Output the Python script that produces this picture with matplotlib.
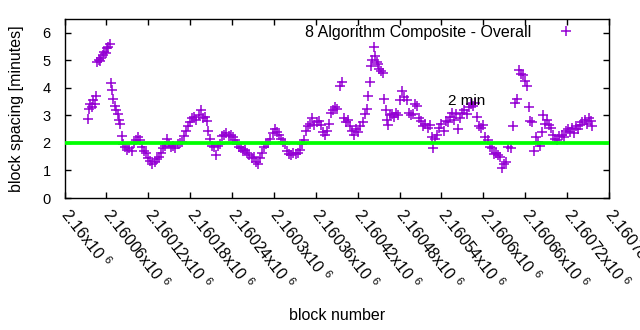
import numpy as np
import matplotlib
matplotlib.use("Agg")
import matplotlib.pyplot as plt
from matplotlib.ticker import MultipleLocator, FuncFormatter

# numer bloku = BASE_BLOCK + offset
BASE_BLOCK = 2160000

block_offset = [
    33, 35, 37, 39, 41, 43, 45, 47, 49, 51, 53, 55, 57, 59, 61, 63, 65, 67, 68, 70,
    72, 74, 76, 78, 80, 82, 84, 87, 90, 93, 96, 99, 102, 105, 108, 111, 114, 117, 120, 123,
    126, 129, 132, 135, 138, 141, 144, 147, 150, 153, 156, 159, 162, 165, 168, 171, 174, 177, 180, 183,
    186, 189, 192, 195, 198, 201, 204, 206, 208, 211, 214, 217, 220, 223, 226, 229, 232, 235, 238, 241,
    244, 247, 250, 253, 256, 259, 262, 265, 268, 271, 274, 277, 280, 283, 286, 289, 292, 295, 298, 301,
    304, 307, 310, 313, 316, 319, 322, 325, 328, 331, 334, 337, 340, 343, 346, 349, 352, 355, 358, 361,
    364, 367, 370, 373, 376, 379, 382, 385, 388, 391, 394, 397, 400, 403, 406, 409, 412, 415, 418, 421,
    424, 427, 430, 433, 435, 437, 439, 441, 443, 445, 447, 449, 451, 453, 456, 458, 460, 462, 464, 466,
    469, 472, 475, 478, 481, 484, 487, 490, 493, 496, 499, 502, 505, 508, 511, 514, 517, 520, 523, 526,
    528, 531, 534, 537, 540, 543, 546, 549, 552, 555, 558, 561, 564, 567, 570, 573, 576, 579, 582, 585,
    588, 591, 594, 597, 600, 603, 606, 609, 612, 615, 618, 621, 624, 627, 630, 633, 636, 639, 642, 645,
    648, 651, 654, 657, 660, 663, 665, 667, 670, 672, 675, 678, 681, 684, 686, 688, 691, 694, 697, 700,
    703, 706, 709, 712, 715, 718, 721, 724, 727, 730, 733, 736, 739, 742, 745, 748, 751, 754, 756,
]

spacing_min = [
    2.87, 3.25, 3.40, 3.30, 3.55, 3.40, 3.70, 4.95, 5.00, 4.98, 5.10, 5.20, 5.30, 5.25, 5.45, 5.50, 5.58, 4.19, 3.92, 3.60,
    3.35, 3.20, 3.05, 2.85, 2.70, 2.25, 1.95, 1.85, 1.75, 1.80, 1.72, 2.00, 2.10, 2.20, 2.10, 1.85, 1.70, 1.65, 1.45, 1.35,
    1.22, 1.30, 1.40, 1.50, 1.65, 1.80, 1.90, 2.15, 1.95, 1.85, 1.90, 1.80, 1.95, 2.00, 2.05, 2.25, 2.45, 2.60, 2.75, 2.90,
    2.95, 2.85, 3.00, 3.20, 2.90, 2.95, 2.80, 2.45, 2.15, 1.90, 1.85, 1.55, 1.90, 1.95, 2.25, 2.30, 2.35, 2.25, 2.30, 2.20,
    2.10, 1.95, 1.85, 1.80, 1.70, 1.75, 1.65, 1.55, 1.45, 1.50, 1.30, 1.25, 1.45, 1.65, 1.85, 1.95, 2.00, 2.15, 2.35, 2.50,
    2.40, 2.30, 2.15, 2.05, 1.95, 1.70, 1.60, 1.55, 1.62, 1.58, 1.65, 1.75, 1.95, 2.10, 2.45, 2.60, 2.70, 2.90, 2.65, 2.75,
    2.80, 2.65, 2.40, 2.30, 2.45, 2.70, 3.10, 3.20, 3.30, 3.25, 4.05, 4.20, 2.90, 2.75, 2.85, 2.60, 2.45, 2.30, 2.50, 2.40,
    2.60, 2.75, 3.05, 3.25, 3.70, 4.20, 4.80, 5.00, 5.50, 5.15, 4.95, 4.85, 4.70, 4.60, 4.55, 3.60, 3.20, 2.85, 2.65, 3.00,
    3.05, 2.95, 3.10, 3.00, 3.55, 3.90, 3.65, 3.55, 3.10, 3.00, 3.05, 3.40, 3.35, 2.90, 2.80, 2.60, 2.70, 2.55, 2.65, 2.20,
    1.80, 2.15, 2.30, 2.55, 2.70, 2.45, 2.80, 2.75, 2.95, 3.10, 2.85, 3.05, 2.50, 2.90, 3.10, 3.20, 3.05, 3.30, 3.40, 3.35,
    3.45, 2.95, 2.60, 2.55, 2.65, 2.20, 2.10, 1.85, 1.80, 1.60, 1.65, 1.55, 1.50, 1.08, 1.25, 1.30, 1.85, 1.80, 2.60, 3.45,
    3.60, 4.65, 4.50, 4.45, 4.25, 4.05, 3.30, 2.80, 2.75, 1.70, 2.20, 2.05, 1.90, 2.40, 3.00, 2.70, 2.85, 2.65, 2.55, 2.30,
    2.15, 2.10, 2.25, 2.30, 2.20, 2.45, 2.50, 2.40, 2.55, 2.35, 2.60, 2.50, 2.65, 2.75, 2.85, 2.70, 2.90, 2.80, 2.60,
]

target_min = 2
series_label = "8 Algorithm Composite - Overall"

plt.rcParams["font.family"] = ["Liberation Sans", "DejaVu Sans"]
plt.rcParams["mathtext.fontset"] = "custom"
plt.rcParams["mathtext.rm"] = "Liberation Sans"
plt.rcParams["mathtext.default"] = "regular"

blocks = BASE_BLOCK + np.array(block_offset)

fig = plt.figure(figsize=(6.4, 3.3), dpi=100)
ax = fig.add_axes([64.5 / 640, 132 / 330, 544.5 / 640, 179 / 330])

ax.plot(blocks, spacing_min, linestyle="none", marker="+", markersize=7,
        markeredgewidth=1.1, color="#9400d3", label=series_label, zorder=2)
ax.axhline(target_min, color="#00ff00", linewidth=2.7, zorder=3)
ax.text(BASE_BLOCK + 550, 3.52, "2 min", fontsize=11, va="center", ha="left")

ax.set_xlim(BASE_BLOCK, BASE_BLOCK + 780)
ax.set_ylim(0, 6.5)
ax.xaxis.set_major_locator(MultipleLocator(60))
ax.yaxis.set_major_locator(MultipleLocator(1))
ax.xaxis.set_major_formatter(FuncFormatter(lambda v, pos: f"{v / 1e6:g}x10 $^{{6}}$"))
ax.tick_params(direction="in", top=True, right=True, length=4, width=1)
ax.tick_params(axis="y", pad=10, labelsize=10.5)
ax.tick_params(axis="x", pad=9, labelsize=11.5)
for lab in ax.get_xticklabels():
    lab.set_rotation(-52)
    lab.set_ha("left")
    lab.set_va("center")
    lab.set_rotation_mode("anchor")
for sp in ax.spines.values():
    sp.set_linewidth(1)

ax.set_xlabel("block number", fontsize=11.5)
ax.set_ylabel("block spacing [minutes]", fontsize=11.5)
ax.xaxis.set_label_coords(0.5, -0.615)
ax.yaxis.set_label_coords(-0.075, 0.5)

ax.legend(loc="upper right", bbox_to_anchor=(582 / 640, 305 / 330),
          bbox_transform=fig.transFigure, frameon=False, markerfirst=False,
          fontsize=11.5, borderpad=0, borderaxespad=0, handlelength=2,
          handletextpad=1.2)

fig.savefig("out.png", dpi=100)
